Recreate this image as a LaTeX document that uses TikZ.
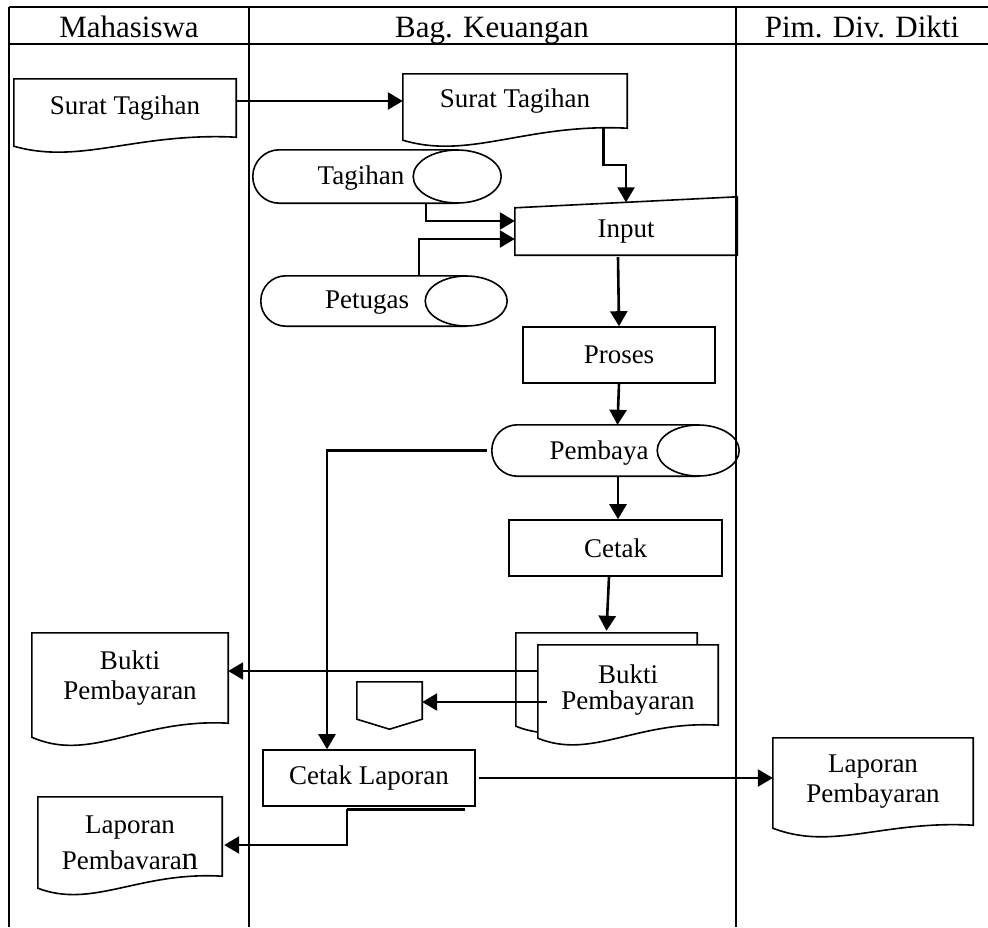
\documentclass[tikz,border=0pt]{standalone}
\usepackage{fontspec}
\setmainfont{Liberation Serif}
\usetikzlibrary{arrows.meta,calc,shapes.geometric}

\newcommand\bodyfont{\fontsize{27}{30}\selectfont}
\newcommand\headfont{\fontsize{31}{36}\selectfont}

% document symbol drawn around a named box: node, width, left drop, curve depth, extra options
\newcommand\docshape[5][]{%
  \draw[shp,#1] (#2.south east) -- (#2.north east) -- (#2.north west)
    -- ($(#2.south west)+(0,#4)$)
    .. controls ($(#2.south west)+({0.3*#3},#5)$) and ($(#2.south west)+({0.55*#3},-5)$) .. (#2.south east) -- cycle;}

% stored-data drum: node, centre, width, height, end-ellipse width
\newcommand\drum[5]{%
  \node[box, minimum width=#3pt, minimum height=#4pt] (#1) at (#2) {};
  \draw[shp, rounded corners={#4pt/2}] ($(#1.north east)+({-#5/2},0)$) -- (#1.north west)
    -- (#1.south west) -- ($(#1.south east)+({-#5/2},0)$);
  \node[shp, ellipse, draw, inner sep=0, minimum width=#5pt, minimum height=#4pt]
    (#1-end) at ($(#1.east)+({-#5/2},0)$) {};}

\tikzset{
  tbl/.style={line width=2.4pt},
  shp/.style={line width=1.6pt},
  box/.style={rectangle, draw=none, inner sep=0, align=center, font=\bodyfont},
  rbox/.style={box, draw, line width=1.6pt},
  txt/.style={inner sep=0, font=\bodyfont},
  hdr/.style={inner sep=0, anchor=base, font=\headfont},
  arr/.style={line width=2.6pt, -{Triangle[length=15pt,width=17pt]}}
}

\begin{document}
\begin{tikzpicture}[x=1pt,y=-1pt]
\useasboundingbox (0,0) rectangle (988,927);

% swimlane table
\draw[tbl] (9,7) -- (988,7);
\draw[tbl] (9,44) -- (988,44);
\draw[tbl] (9,7) -- (9,927);
\draw[tbl] (249,7) -- (249,927);
\draw[tbl] (736,7) -- (736,927);
\node[hdr] (hM) at (129,37) {Mahasiswa};
\node[hdr] (hB) at (492,37) {Bag. Keuangan};
\node[hdr] (hP) at (862,37) {Pim. Div. Dikti};

% documents
\node[box, minimum width=222pt, minimum height=58pt] (stM) at (125,108) {Surat Tagihan};
\docshape{stM}{222}{9}{28}
\node[box, minimum width=224pt, minimum height=54pt] (stB) at (515,101) {Surat Tagihan};
\docshape{stB}{224}{12}{32}
\node[box, minimum width=196pt, minimum height=90pt] (bkL) at (130,678) {Bukti\\Pembayaran};
\docshape{bkL}{196}{14}{40}
\node[box, minimum width=181pt, minimum height=80pt] (mb) at (606.5,673) {};
\docshape[fill=white]{mb}{181}{13}{35}
\node[box, minimum width=180pt, minimum height=80pt] (mf) at (628,685) {};
\docshape[fill=white]{mf}{180}{13}{35}
\node[txt, align=center] (mfT) at (628,690) {Bukti\\[-4pt]Pembayaran};
\node[box, minimum width=200pt, minimum height=87pt] (lpR) at (873,781.5) {Laporan\\Pembayaran};
\docshape{lpR}{200}{3}{26}
\node[box, minimum width=184pt, minimum height=79pt] (lpL) at (130,836.5) {};
\docshape{lpL}{184}{12}{33}
\node[txt, align=center] (lpLT) at (130,843) {Laporan\\[6pt]Pembavara{\fontsize{33}{30}\selectfont n}};

% stored data
\drum{tag}{377,176.5}{248}{53}{88}
\node[txt] (tagT) at (361,178) {Tagihan};
\drum{pet}{384,301}{246}{50}{82}
\node[txt] (petT) at (367,303) {Petugas};
\drum{pem}{615.5,450.5}{247}{51}{82}
\node[txt] (pemT) at (599,453) {Pembaya};

% manual input
\node[box, minimum width=222pt, minimum height=47pt] (in) at (626,231.5) {Input};
\draw[shp] (in.north west) -- ($(in.north east)+(0,-11)$) -- (in.south east) -- (in.south west) -- cycle;
\coordinate (inTop) at ($(in.north west)!0.5!($(in.north east)+(0,-11)$)$);

% processes
\node[rbox, minimum width=192pt, minimum height=56pt] (pro) at (619,355) {Proses};
\node[rbox, minimum width=213pt, minimum height=56pt] (cet) at (615.5,548) {Cetak};
\node[rbox, minimum width=212pt, minimum height=56pt] (cl) at (369,778) {Cetak Laporan};
\draw[line width=2.6pt] ($(cl.south)+(-22,2.5)$) -- ($(cl.south)+(96,2.5)$);

% off-page connector
\node[box, minimum width=65pt, minimum height=37pt] (off) at (389.5,700.5) {};
\draw[shp] (off.north west) -- (off.north east) -- (off.south east)
  -- ($(off.south)+(0,10)$) -- (off.south west) -- cycle;

% flow
\draw[arr] (stB.west -| stM.east) -- (stB.west);
\draw[arr] ($(stB.south east)+(-24,0)$) |- ($(inTop)+(0,-37.5)$) -- (inTop);
\draw[arr] ($(tag.south)+(49,0)$) |- ($(in.west)+(0,-10.5)$);
\draw[arr] ($(pet.north)+(35,0)$) |- ($(in.west)+(0,7.5)$);
\draw[arr] ($(in.south)+(-8,2)$) -- (pro.north);
\draw[arr] (pro.south) -- ($(pem.north)+(2,0)$);
\draw[arr] ($(pem.south)+(2.5,0)$) -- ($(cet.north)+(2.5,0)$);
\draw[arr] ($(cet.south)+(-6.5,0)$) -- ($(mb.north)+(0,-2)$);
\draw[arr] ($(pem.west)+(-5,0)$) -| ($(cl.north)+(-42,0)$);
\coordinate (mfU) at ($(mf.west)+(0,-14)$);
\draw[arr] (mfU) -- (mfU -| bkL.east);
\coordinate (mfL) at ($(mf.west)+(9,17)$);
\draw[arr] (mfL) -- (mfL -| off.east);
\draw[arr] ($(cl.east)+(3,0)$) -- (cl.east -| lpR.west);
\coordinate (lpLin) at ($(lpL.east)+(2,8.5)$);
\draw[arr] ($(cl.south)+(-22,2.5)$) |- (lpLin);
\end{tikzpicture}
\end{document}
